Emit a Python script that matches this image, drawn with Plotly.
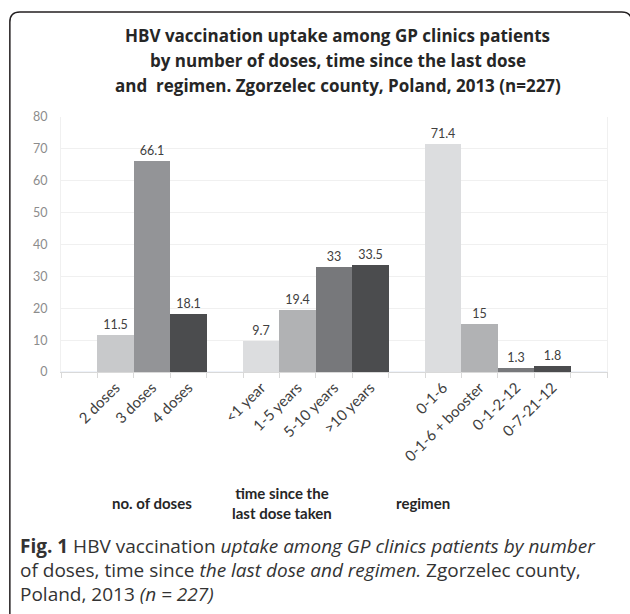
import plotly.graph_objects as go

# ---- data ----
doses_labels = ["2 doses", "3 doses", "4 doses"]
doses_values = [11.5, 66.1, 18.1]
time_labels = ["<1 year", "1-5 years", "5-10 years", ">10 years"]
time_values = [9.7, 19.4, 33, 33.5]
regimen_labels = ["0-1-6", "0-1-6 + booster", "0-1-2-12", "0-7-21-12"]
regimen_values = [71.4, 15, 1.3, 1.8]
group_titles = ["no. of doses", "time since the<br>last dose taken", "regimen"]
y_ticks = [0, 10, 20, 30, 40, 50, 60, 70, 80]
blank_slots = [" ", "  ", "   ", "    "]

# ---- styles ----
doses_colors = ["#c8c9cb", "#939497", "#4b4c4e"]
four_shades = ["#dcdddf", "#b1b2b4", "#77787b", "#4b4c4e"]

W, H = 630, 614
L, R, T, B = 60.7, 22.7, 116.7, 241.7
PW, PH = W - L - R, H - T - B


def xp(px):
    return (px - L) / PW


def yp(py):
    return (H - B - py) / PH


order = ([blank_slots[0]] + doses_labels + [blank_slots[1]] + time_labels +
         [blank_slots[2]] + regimen_labels + [blank_slots[3]])

fig = go.Figure()
fig.add_trace(go.Bar(x=blank_slots, y=[0] * len(blank_slots),
                     marker=dict(color="rgba(0,0,0,0)"), showlegend=False,
                     hoverinfo="skip"))
for labels, values, colors in [(doses_labels, doses_values, doses_colors),
                               (time_labels, time_values, four_shades),
                               (regimen_labels, regimen_values, four_shades)]:
    fig.add_trace(go.Bar(
        x=labels, y=values, marker=dict(color=colors, line=dict(width=0)),
        texttemplate="%{y}", textposition="outside", cliponaxis=False,
        textfont=dict(family="Lato", size=12.5, color="#404040"),
        showlegend=False))

fig.update_layout(
    width=W, height=H, margin=dict(l=L, r=R, t=T, b=B, pad=0),
    paper_bgcolor="white", plot_bgcolor="white", bargap=0, barmode="overlay",
    xaxis=dict(type="category", categoryorder="array", categoryarray=order,
               range=[-0.5, len(order) - 0.5], tickangle=-45, ticks="outside",
               tickson="boundaries", ticklen=5, tickcolor="#d9d9d9",
               showline=True, linecolor="#d9d9d9", linewidth=1,
               showgrid=False, automargin=False,
               tickfont=dict(family="Lato", size=15, color="#404040")),
    yaxis=dict(range=[0, 80], tickvals=y_ticks, showgrid=True,
               gridcolor="#f0f0f0", gridwidth=1, zeroline=False,
               showline=True, linecolor="#f0f0f0", mirror=True, ticks="",
               ticklabelstandoff=10, automargin=False,
               tickfont=dict(family="Lato", size=12.5, color="#8c8c8c")),
    font=dict(family="Lato"),
)

# border (rounded top corners)
r = 10
x0, x1, y0, y1 = 9.5, 632, 11.5, 620
path = (f"M {xp(x0)} {yp(y1)} L {xp(x0)} {yp(y0 + r)} "
        f"Q {xp(x0)} {yp(y0)} {xp(x0 + r)} {yp(y0)} "
        f"L {xp(x1 - r)} {yp(y0)} Q {xp(x1)} {yp(y0)} {xp(x1)} {yp(y0 + r)} "
        f"L {xp(x1)} {yp(y1)}")
fig.add_shape(type="path", path=path, xref="paper", yref="paper",
              line=dict(color="#231f20", width=1.5))

title_lines = ["HBV vaccination uptake among GP clinics patients",
               "by number of doses, time since the last dose",
               "and  regimen. Zgorzelec county, Poland, 2013 (n=227)"]
for i, line in enumerate(title_lines):
    fig.add_annotation(text=f"<b>{line}</b>", x=xp(338), y=yp(35 + 25 * i),
                       xref="paper", yref="paper", showarrow=False,
                       xanchor="center", yanchor="middle",
                       font=dict(family="Open Sans", size=17, color="#262626"))

group_x = [152, 282, 423]
for gx, gt in zip(group_x, group_titles):
    fig.add_annotation(text=f"<b>{gt}</b>", x=xp(gx), y=yp(504),
                       xref="paper", yref="paper", showarrow=False,
                       xanchor="center", yanchor="middle",
                       font=dict(family="Lato", size=15, color="#262626"))

caption_lines = [
    "<b>Fig. 1</b> HBV vaccination <i>uptake among GP clinics patients by number</i>",
    "of doses, time since <i>the last dose and regimen.</i> Zgorzelec county,",
    "Poland, 2013 <i>(n = 227)</i>",
]
for i, line in enumerate(caption_lines):
    fig.add_annotation(text=line, x=xp(18), y=yp(547 + 24 * i),
                       xref="paper", yref="paper", showarrow=False,
                       xanchor="left", yanchor="middle",
                       font=dict(family="Open Sans", size=19, color="#333333"))

fig.write_html("out.html", config={"displayModeBar": False},
               post_script="document.body.style.margin='0px';"
                           "document.body.style.overflow='hidden';")
